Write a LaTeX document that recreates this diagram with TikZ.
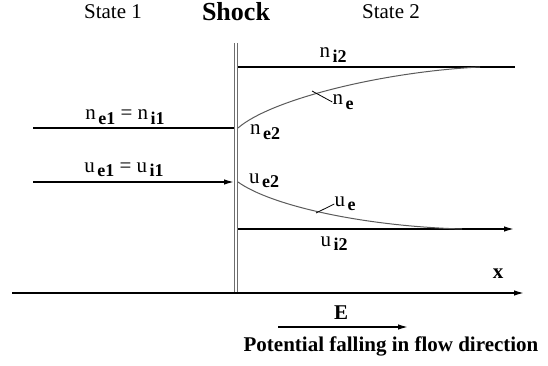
\documentclass[tikz,border=0pt]{standalone}
\usepackage{fontspec}
\setmainfont{Liberation Serif}
\usepackage{tikz}
\usetikzlibrary{positioning,arrows.meta}
\definecolor{curvegray}{RGB}{90, 90, 90}
\definecolor{shockgray}{RGB}{110, 110, 110}

\newcommand{\sublbl}[2]{#1\kern2.5pt\raisebox{-0.45ex}{\fontsize{18}{18}\selectfont\bfseries #2}}

\begin{document}
\begin{tikzpicture}[
    x=1pt, y=-1pt,
    every node/.style={inner sep=0pt, font=\fontsize{21}{21}\selectfont},
    title/.style={font=\fontsize{21}{21}\selectfont},
    bigtitle/.style={font=\fontsize{26}{26}\selectfont\bfseries},
    boldlabel/.style={font=\fontsize{21}{21}\selectfont\bfseries},
    level/.style={line width=1.4pt},
    arrow/.style={line width=1.4pt, -{Latex[length=10pt, width=5.5pt]}},
    profile/.style={line width=1pt, draw=curvegray},
    leader/.style={line width=0.8pt},
    shock/.style={draw=shockgray, line width=1pt, double, double distance=2.2pt}
]
    \useasboundingbox (0,0) rectangle (548,366);

    % Headings
    \node[title] (state1) at (113,12) {State 1};
    \node[bigtitle] (shocklbl) at (236,12) {Shock};
    \node[title] (state2) at (391,12) {State 2};

    % Shock front
    \coordinate (shocktop) at (236,43);
    \coordinate (shockbot) at (236,292);
    \draw[shock] (shocktop) -- (shockbot);

    % State 1: upstream levels
    \coordinate (n1start) at (33,128);
    \coordinate (n1end) at (234,128);
    \coordinate (u1start) at (33,182);
    \coordinate (u1end) at (234,182);
    \draw[level] (n1start) -- (n1end);
    \draw[arrow] (u1start) -- (u1end);
    \node (n1lbl) at (125,117) {\sublbl{n}{e1} = \sublbl{n}{i1}};
    \node (u1lbl) at (124,170) {\sublbl{u}{e1} = \sublbl{u}{i1}};

    % State 2: ion levels
    \coordinate (ni2start) at (238,67);
    \coordinate (ni2end) at (515,67);
    \coordinate (ui2start) at (238,229);
    \coordinate (ui2end) at (514,229);
    \draw[level] (ni2start) -- (ni2end);
    \draw[arrow] (ui2start) -- (ui2end);
    \node (ni2lbl) at (333,55) {\sublbl{n}{i2}};
    \node (ui2lbl) at (334,244) {\sublbl{u}{i2}};

    % State 2: electron profiles
    \coordinate (ne2) at (238,128);
    \coordinate (ne2end) at (480,67);
    \coordinate (ue2) at (238,182);
    \coordinate (ue2end) at (462,229);
    \draw[profile] (ne2) .. controls (270,100) and (380,72) .. (ne2end);
    \draw[profile] (ue2) .. controls (270,205) and (360,226) .. (ue2end);
    \node (ne2lbl) at (265,132) {\sublbl{n}{e2}};
    \node (ue2lbl) at (264,181) {\sublbl{u}{e2}};

    % Profile labels with leaders
    \coordinate (neon) at (312,91);
    \coordinate (ueon) at (316,213);
    \node (nelbl) at (343,102) {\sublbl{n}{e}};
    \node (uelbl) at (345,204) {\sublbl{u}{e}};
    \draw[leader] (neon) -- (nelbl.west);
    \draw[leader] (ueon) -- (uelbl.west);

    % Axis
    \coordinate (xstart) at (12,293);
    \coordinate (xend) at (524,293);
    \draw[arrow] (xstart) -- (xend);
    \node[boldlabel] (xlbl) at (498,274) {x};

    % Field
    \coordinate (estart) at (278,327);
    \coordinate (eend) at (408,327);
    \draw[arrow] (estart) -- (eend);
    \node[boldlabel] (elbl) at (341,313) {E};
    \node[boldlabel] (note) at (391,346) {Potential falling in flow direction};
\end{tikzpicture}
\end{document}
